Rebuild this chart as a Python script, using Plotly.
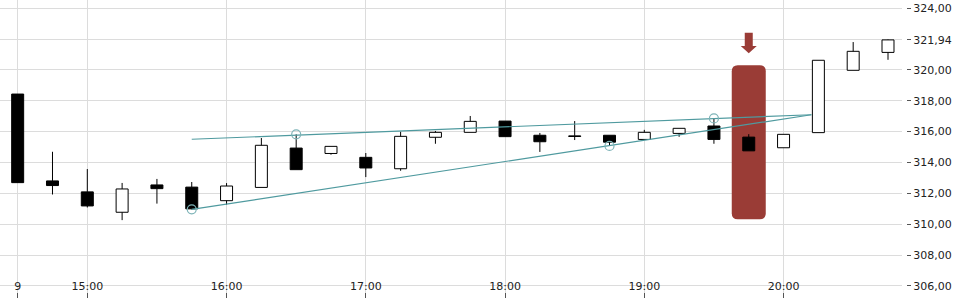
import plotly.graph_objects as go

# ---------------- data ----------------
day = "2019-09-13"
times = ["14:30", "14:45", "15:00", "15:15", "15:30", "15:45", "16:00", "16:15",
         "16:30", "16:45", "17:00", "17:15", "17:30", "17:45", "18:00", "18:15",
         "18:30", "18:45", "19:00", "19:15", "19:30", "19:45", "20:00", "20:15",
         "20:30", "20:45"]
opens = [318.43, 312.80, 312.09, 310.77, 312.54, 312.40, 311.52, 312.38,
         314.93, 314.58, 314.33, 313.59, 315.63, 315.95, 316.68, 315.76,
         315.72, 315.76, 315.49, 315.88, 316.36, 315.64, 314.95, 315.93,
         319.97, 321.13]
highs = [318.43, 314.69, 313.57, 312.67, 312.93, 312.73, 312.66, 315.58,
         315.82, 315.04, 314.61, 315.99, 316.04, 317.01, 316.68, 315.91,
         316.68, 315.76, 316.11, 316.21, 316.85, 315.83, 315.82, 320.62,
         321.80, 321.97]
lows = [312.69, 311.92, 311.08, 310.26, 311.33, 310.96, 311.26, 312.38,
        313.53, 314.50, 313.05, 313.46, 315.21, 315.95, 315.67, 314.68,
        315.45, 315.07, 315.49, 315.66, 315.21, 314.75, 314.95, 315.93,
        319.97, 320.65]
closes = [312.69, 312.50, 311.18, 312.28, 312.30, 310.99, 312.47, 315.11,
          313.53, 315.04, 313.64, 315.69, 315.95, 316.66, 315.67, 315.34,
          315.68, 315.31, 315.95, 316.21, 315.49, 314.75, 315.82, 320.62,
          321.20, 321.94]

pivot_times = ["15:45", "16:30", "18:45", "19:30"]
pivot_values = [310.96, 315.82, 315.07, 316.85]

upper_line_times = ["15:45", "20:12"]
upper_line_values = [315.50, 317.09]
lower_line_times = ["15:45", "20:12"]
lower_line_values = [310.96, 317.09]

highlight_time = "19:45"
highlight_low, highlight_high = 310.31, 320.29
arrow_top, arrow_neck, arrow_tip = 322.41, 321.55, 321.07

x_tick_times = ["14:30", "15:00", "16:00", "17:00", "18:00", "19:00", "20:00"]
x_tick_labels = ["9", "15:00", "16:00", "17:00", "18:00", "19:00", "20:00"]
y_tick_values = [306, 308, 310, 312, 314, 316, 318, 320, 321.94, 324]
y_tick_labels = ["306,00", "308,00", "310,00", "312,00", "314,00", "316,00",
                 "318,00", "320,00", "321,94", "324,00"]

# ---------------- layout constants ----------------
W, H = 960, 300
M_L, M_R, M_T, M_B = 0, 58, 0, 3
Y_RANGE = [305.278, 324.526]
X_RANGE = [f"{day} 14:22:23", f"{day} 20:51:02"]
X_AXIS_PX_FROM_BOTTOM = 5
FONT = "DejaVu Sans"
GRID = "#dcdcdc"
TEAL = "#4f9a9f"
RED = "#9a3c36"


def ts(t):
    return f"{day} {t}"


xs = [ts(t) for t in times]

# wicks: segments above and below each body
wx, wy = [], []
for x, o, h, l, c in zip(xs, opens, highs, lows, closes):
    top, bot = max(o, c), min(o, c)
    if h > top:
        wx += [x, x, None]
        wy += [h, top, None]
    if l < bot:
        wx += [x, x, None]
        wy += [bot, l, None]

fig = go.Figure()

fig.add_trace(go.Bar(
    x=xs,
    y=[abs(c - o) for o, c in zip(opens, closes)],
    base=[min(o, c) for o, c in zip(opens, closes)],
    width=310000,
    marker=dict(color=["white" if c >= o else "black" for o, c in zip(opens, closes)],
                line=dict(color="black", width=1)),
    hoverinfo="skip",
))

fig.add_trace(go.Scatter(x=wx, y=wy, mode="lines",
                         line=dict(color="black", width=1), hoverinfo="skip"))

fig.add_trace(go.Scatter(x=[ts(t) for t in upper_line_times], y=upper_line_values,
                         mode="lines", line=dict(color=TEAL, width=1.2)))
fig.add_trace(go.Scatter(x=[ts(t) for t in lower_line_times], y=lower_line_values,
                         mode="lines", line=dict(color=TEAL, width=1.2)))
fig.add_trace(go.Scatter(x=[ts(t) for t in pivot_times], y=pivot_values, mode="markers",
                         marker=dict(symbol="circle-open", size=9,
                                     color="#7db3b7", line=dict(width=1.2))))

# highlight rounded rectangle (x in pixels around the highlighted candle)
plot_h = H - M_T - M_B
px_per_unit = plot_h / (Y_RANGE[1] - Y_RANGE[0])
hw, r = 17, 6
ry = r / px_per_unit
yb, yt = highlight_low, highlight_high
rect_path = (f"M {-hw + r},{yb} L {hw - r},{yb} Q {hw},{yb} {hw},{yb + ry} "
             f"L {hw},{yt - ry} Q {hw},{yt} {hw - r},{yt} L {-hw + r},{yt} "
             f"Q {-hw},{yt} {-hw},{yt - ry} L {-hw},{yb + ry} Q {-hw},{yb} {-hw + r},{yb} Z")
fig.add_shape(type="path", path=rect_path, xref="x", yref="y",
              xsizemode="pixel", xanchor=ts(highlight_time),
              fillcolor=RED, line=dict(width=0), layer="between")

arrow_path = (f"M -4,{arrow_top} L 4,{arrow_top} L 4,{arrow_neck} L 8,{arrow_neck} "
              f"L 0,{arrow_tip} L -8,{arrow_neck} L -4,{arrow_neck} Z")
fig.add_shape(type="path", path=arrow_path, xref="x", yref="y",
              xsizemode="pixel", xanchor=ts(highlight_time),
              fillcolor=RED, line=dict(width=0), layer="above")

fig.update_layout(
    width=W, height=H,
    margin=dict(l=M_L, r=M_R, t=M_T, b=M_B),
    paper_bgcolor="white", plot_bgcolor="white",
    showlegend=False,
    font=dict(family=FONT, size=11, color="#222"),
    xaxis=dict(type="date", range=X_RANGE,
               tickvals=[ts(t) for t in x_tick_times], ticktext=x_tick_labels,
               showgrid=True, gridcolor=GRID, gridwidth=1,
               side="top", anchor="free", position=X_AXIS_PX_FROM_BOTTOM / plot_h,
               ticks="inside", ticklen=5, tickcolor="#555",
               zeroline=False, showline=False,
               tickfont=dict(family=FONT, size=11, color="#222")),
    yaxis=dict(side="right", range=Y_RANGE, anchor="free", position=1, shift=4,
               tickvals=y_tick_values, ticktext=y_tick_labels,
               showgrid=True, gridcolor=GRID, gridwidth=1,
               ticks="outside", ticklen=4, tickcolor="#555",
               zeroline=False, showline=False,
               tickfont=dict(family=FONT, size=11, color="#222")),
)

fig.write_html("out.html")
